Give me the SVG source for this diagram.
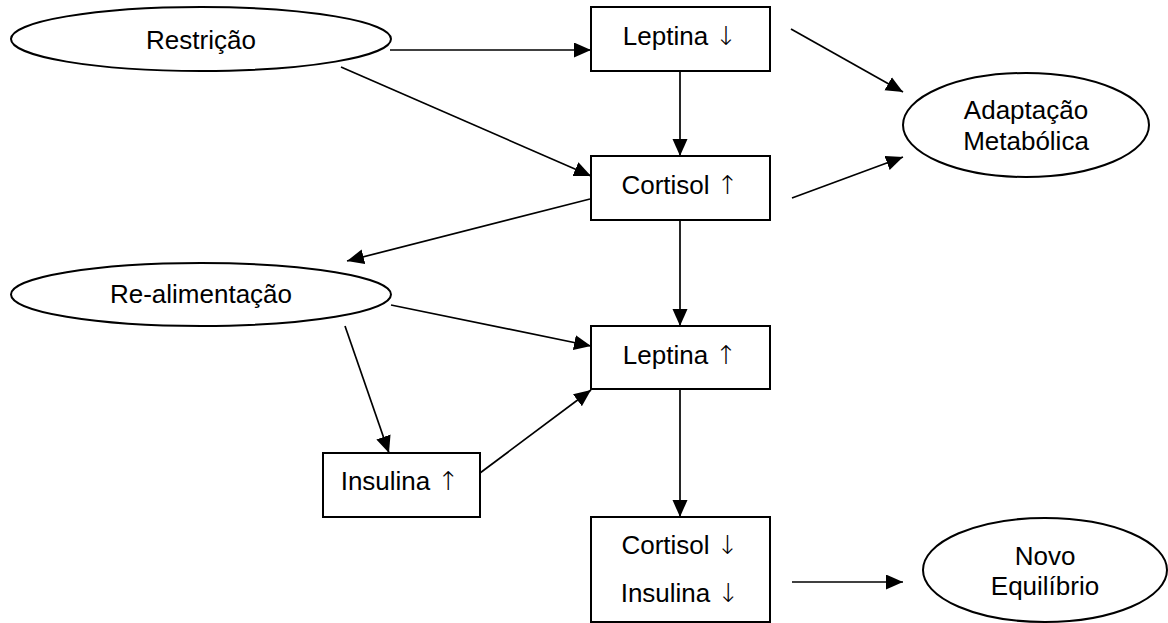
<svg xmlns="http://www.w3.org/2000/svg" width="1168" height="623" viewBox="0 0 1168 623">
<style>
.n{fill:#fff;stroke:#000;stroke-width:2}
.t{font-family:"Liberation Sans",Arial,sans-serif;font-size:26px;fill:#000;text-anchor:middle}
.a{font-family:"DejaVu Sans",sans-serif;font-weight:200}
.c line{stroke:#000;stroke-width:1.7;marker-end:url(#ah)}
</style>
<defs>
<marker id="ah" markerUnits="userSpaceOnUse" markerWidth="18" markerHeight="16" refX="17" refY="7.5" orient="auto">
<path d="M0,0 L17,7.5 L0,15 z" fill="#000"/>
</marker>
</defs>
<rect width="1168" height="623" fill="#fff"/>
<g class="c" id="connectors">
<line x1="390" y1="50" x2="591" y2="50"/>
<line x1="341" y1="67" x2="591" y2="176"/>
<line x1="791" y1="29" x2="903" y2="92"/>
<line x1="680" y1="71" x2="680" y2="156"/>
<line x1="792" y1="198" x2="903" y2="157"/>
<line x1="590" y1="199" x2="347" y2="261"/>
<line x1="680" y1="220" x2="680" y2="326"/>
<line x1="391" y1="305" x2="591" y2="346"/>
<line x1="345" y1="326" x2="389" y2="453"/>
<line x1="480" y1="473" x2="591" y2="390"/>
<line x1="680" y1="389" x2="680" y2="517"/>
<line x1="792" y1="582" x2="903" y2="582"/>
</g>
<g id="restricao"><ellipse class="n" cx="201" cy="39" rx="190" ry="32"/><text class="t" x="201" y="49">Restrição</text></g>
<g id="leptina-down"><rect class="n" x="591" y="7" width="179" height="64"/><text class="t" x="680" y="45">Leptina <tspan class="a">↓</tspan></text></g>
<g id="cortisol-up"><rect class="n" x="591" y="156" width="179" height="64"/><text class="t" x="680" y="194">Cortisol <tspan class="a">↑</tspan></text></g>
<g id="adaptacao"><ellipse class="n" cx="1026" cy="125" rx="123" ry="52"/><text class="t" x="1026" y="119">Adaptação</text><text class="t" x="1026" y="150">Metabólica</text></g>
<g id="realimentacao"><ellipse class="n" cx="201" cy="294.5" rx="190" ry="31.5"/><text class="t" x="201" y="303">Re-alimentação</text></g>
<g id="leptina-up"><rect class="n" x="591" y="326" width="179" height="63"/><text class="t" x="680" y="364">Leptina <tspan class="a">↑</tspan></text></g>
<g id="insulina-up"><rect class="n" x="323" y="453" width="157" height="64"/><text class="t" x="400" y="490">Insulina <tspan class="a">↑</tspan></text></g>
<g id="cortisol-insulina-down"><rect class="n" x="591" y="517" width="179" height="105"/><text class="t" x="680" y="554">Cortisol <tspan class="a">↓</tspan></text><text class="t" x="680" y="602">Insulina <tspan class="a">↓</tspan></text></g>
<g id="novo-equilibrio"><ellipse class="n" cx="1045" cy="570" rx="122" ry="52"/><text class="t" x="1045" y="565">Novo</text><text class="t" x="1045" y="595">Equilíbrio</text></g>
</svg>
